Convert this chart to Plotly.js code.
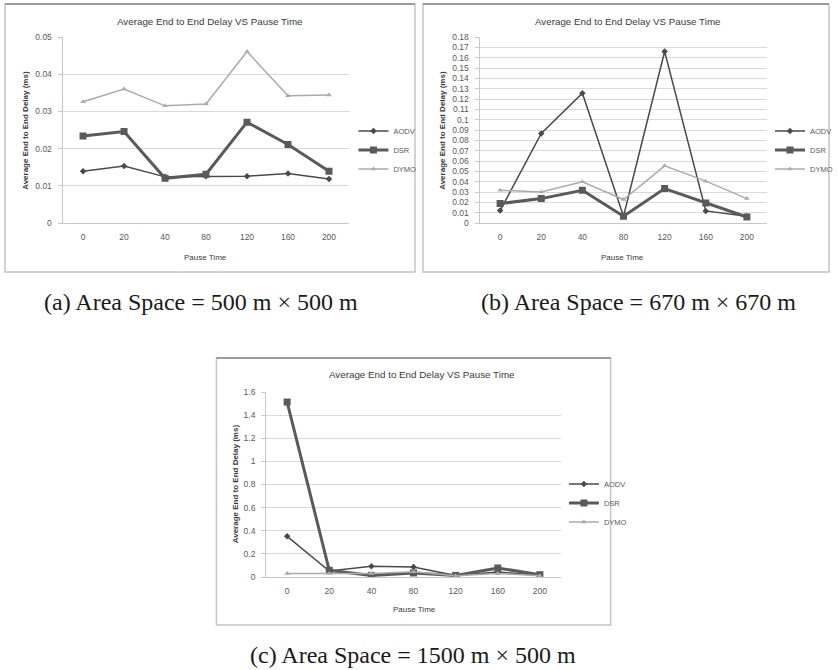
<!DOCTYPE html>
<html>
<head>
<meta charset="utf-8">
<script src="https://cdn.plot.ly/plotly-3.0.1.min.js"></script>
<style>
html,body{margin:0;padding:0;background:#fff;}
#chart{width:838px;height:670px;}
</style>
</head>
<body>
<div id="chart"></div>
<script>
// Data
const pauseTime = ['0', '20', '40', '80', '120', '160', '200'];
const protocols = ['AODV', 'DSR', 'DYMO'];

// (a) Area Space = 500 m x 500 m
const aodvA = [0.0139, 0.0153, 0.0124, 0.0126, 0.0126, 0.0133, 0.0118];
const dsrA  = [0.0234, 0.0246, 0.0120, 0.0131, 0.0271, 0.0211, 0.0139];
const dymoA = [0.0326, 0.0360, 0.0315, 0.0320, 0.0461, 0.0342, 0.0344];

// (b) Area Space = 670 m x 670 m
const aodvB = [0.0120, 0.0867, 0.1256, 0.0065, 0.1660, 0.0117, 0.0065];
const dsrB  = [0.0188, 0.0236, 0.0317, 0.0065, 0.0333, 0.0194, 0.0058];
const dymoB = [0.0317, 0.0301, 0.0398, 0.0227, 0.0553, 0.0405, 0.0236];

// (c) Area Space = 1500 m x 500 m
const aodvC = [0.352, 0.052, 0.092, 0.086, 0.014, 0.043, 0.014];
const dsrC  = [1.513, 0.058, 0.014, 0.035, 0.014, 0.078, 0.020];
const dymoC = [0.030, 0.030, 0.030, 0.045, 0.010, 0.030, 0.010];

const chartTitle = 'Average End to End Delay VS Pause Time';
const yTitle = 'Average End to End Delay (ms)';
const xTitle = 'Pause Time';
const captions = ['(a) Area Space = 500 m × 500 m', '(b) Area Space = 670 m × 670 m', '(c) Area Space = 1500 m × 500 m'];

const W = 838, H = 670;
const px = v => v / W;
const py = v => 1 - v / H;

const styles = [
  {color: '#4a4a4a', width: 1.5, symbol: 'diamond', size: 5},
  {color: '#5a5a5a', width: 3, symbol: 'square', size: 7},
  {color: '#ababab', width: 1.5, symbol: 'triangle-up', size: 5}
];

const sets = [
  {vals: [aodvA, dsrA, dymoA], xa: 'x', ya: 'y', lg: 'legend'},
  {vals: [aodvB, dsrB, dymoB], xa: 'x2', ya: 'y2', lg: 'legend2'},
  {vals: [aodvC, dsrC, dymoC], xa: 'x3', ya: 'y3', lg: 'legend3'}
];

const traces = [];
sets.forEach(s => {
  s.vals.forEach((v, i) => {
    traces.push({
      type: 'scatter', mode: 'lines+markers',
      x: pauseTime, y: v, name: protocols[i],
      xaxis: s.xa, yaxis: s.ya, legend: s.lg,
      line: {color: styles[i].color, width: styles[i].width},
      marker: {color: styles[i].color, symbol: styles[i].symbol, size: styles[i].size},
      hoverinfo: 'x+y+name'
    });
  });
});

const tickFont = {family: 'Liberation Sans, Arial, sans-serif', size: 8.5, color: '#595959'};

function xaxisDef(domain, anchor) {
  return {
    domain: domain, anchor: anchor, type: 'category',
    range: [-0.5, 6.5], showgrid: false, zeroline: false,
    showline: true, linecolor: '#c8c8c8', linewidth: 1,
    ticks: '', tickfont: tickFont, ticklabelstandoff: 6
  };
}
function yaxisDef(domain, anchor, range, dtick) {
  return {
    domain: domain, anchor: anchor, range: range, dtick: dtick, tick0: 0,
    showgrid: true, gridcolor: '#d9d9d9', gridwidth: 1, zeroline: false,
    showline: true, linecolor: '#c8c8c8', linewidth: 1,
    ticks: 'outside', ticklen: 4, tickcolor: '#c8c8c8',
    tickfont: tickFont, ticklabelstandoff: 4
  };
}

const legendDef = (x, y) => ({
  x: px(x), y: py(y), xanchor: 'left', yanchor: 'middle',
  font: {family: 'Liberation Sans, Arial, sans-serif', size: 7.5, color: '#595959'},
  bgcolor: 'rgba(0,0,0,0)', itemwidth: 30, tracegroupgap: 0
});

const frames = [[5, 4, 418, 272], [426, 4, 835, 272], [218, 358, 615, 625]];
const shapes = [];
frames.forEach(f => {
  shapes.push({type: 'rect', xref: 'paper', yref: 'paper', x0: px(f[0]), x1: px(f[2]), y0: py(f[3]), y1: py(f[1]),
    line: {color: '#c4c4c4', width: 1.5}, fillcolor: '#ffffff', layer: 'below'});
  shapes.push({type: 'line', xref: 'paper', yref: 'paper', x0: px(f[0]), x1: px(f[2]), y0: py(f[1]), y1: py(f[1]),
    line: {color: '#8a8a8a', width: 1.5}, layer: 'below'});
});

const annFont = {family: 'Liberation Sans, Arial, sans-serif', size: 9.8, color: '#3a3a3a'};
const yFont = {family: 'Liberation Sans, Arial, sans-serif', size: 8, color: '#3a3a3a', weight: 'bold'};
const xFont = {family: 'Liberation Sans, Arial, sans-serif', size: 8, color: '#3a3a3a'};
const capFont = {family: 'Liberation Serif, Times New Roman, serif', size: 24, color: '#1a1a1a'};

const ann = (text, x, y, font, extra) => Object.assign({
  text: text, xref: 'paper', yref: 'paper', x: px(x), y: py(y),
  xanchor: 'center', yanchor: 'middle', showarrow: false, font: font
}, extra || {});

const annotations = [
  ann(chartTitle, 212, 21, annFont),
  ann(chartTitle, 633, 21, annFont),
  ann(chartTitle, 425, 375, annFont),
  ann(yTitle, 25, 130, yFont, {textangle: -90}),
  ann(yTitle, 445, 130, yFont, {textangle: -90}),
  ann(yTitle, 237, 484, yFont, {textangle: -90}),
  ann(xTitle, 207, 257, xFont),
  ann(xTitle, 627, 257, xFont),
  ann(xTitle, 417, 609, xFont),
  ann(captions[0], 202, 302, capFont),
  ann(captions[1], 643, 302, capFont),
  ann(captions[2], 416, 655, capFont)
];

const layout = {
  width: W, height: H,
  margin: {l: 0, r: 0, t: 0, b: 0},
  paper_bgcolor: '#ffffff', plot_bgcolor: 'rgba(0,0,0,0)',
  showlegend: true,
  xaxis: xaxisDef([px(63), px(352)], 'y'),
  yaxis: yaxisDef([py(223), py(37)], 'x', [0, 0.05], 0.01),
  xaxis2: xaxisDef([px(483), px(773)], 'y2'),
  yaxis2: yaxisDef([py(223), py(37)], 'x2', [0, 0.18], 0.01),
  xaxis3: xaxisDef([px(268), px(565)], 'y3'),
  yaxis3: yaxisDef([py(577), py(392)], 'x3', [0, 1.6], 0.2),
  legend: legendDef(356, 150),
  legend2: legendDef(776, 150),
  legend3: legendDef(568, 503),
  shapes: shapes,
  annotations: annotations
};

Plotly.newPlot('chart', traces, layout, {staticPlot: true, displayModeBar: false});
</script>
</body>
</html>
